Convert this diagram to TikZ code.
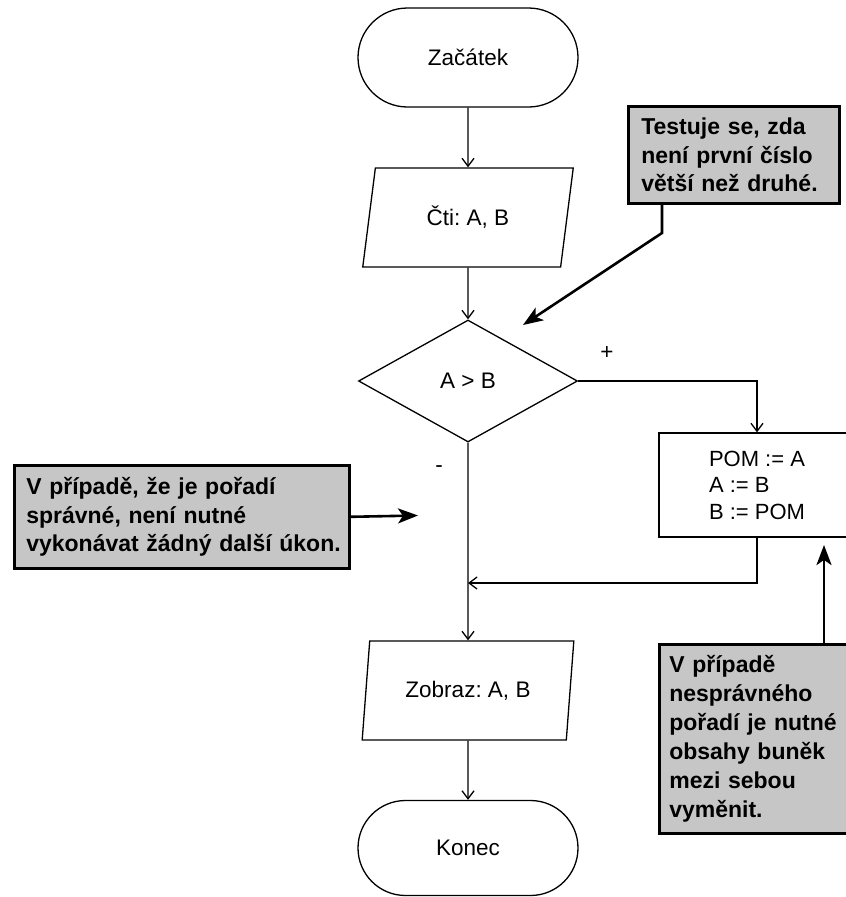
\documentclass[tikz,border=0pt]{standalone}
\usepackage{fontspec}
\setmainfont{Liberation Sans}
\usetikzlibrary{shapes.geometric,shapes.misc,arrows.meta,calc}
\definecolor{notefill}{RGB}{198,198,198}
\newcommand\flowfont{\fontsize{22.5}{26}\selectfont}
\newcommand\notefont{\fontsize{23}{28.5}\selectfont\bfseries}
\frenchspacing
\begin{document}
\begin{tikzpicture}[x=1pt,y=-1pt,
  flow/.style={line width=1.3pt},
  flowarrow/.style={flow,-{Straight Barb[length=8pt,width=12pt]}},
  term/.style={draw,flow,rounded rectangle,minimum width=220pt,
    minimum height=99pt,inner sep=0pt,font=\flowfont},
  io/.style={draw,flow,trapezium,trapezium left angle=76,
    trapezium right angle=104,trapezium stretches=true,
    minimum width=212pt,minimum height=99pt,inner sep=0pt,font=\flowfont},
  decision/.style={draw,flow,diamond,minimum width=219pt,
    minimum height=122pt,inner sep=0pt,font=\flowfont},
  process/.style={draw,flow,rectangle,minimum width=196pt,
    minimum height=104pt,inner sep=0pt,align=left,
    font=\fontsize{22}{26.5}\selectfont},
  note/.style={draw,line width=2.6pt,fill=notefill,font=\notefont,
    align=left,anchor=north west,inner ysep=0pt},
  notearrow/.style={line width=2.6pt,-{Stealth[length=20pt,width=15pt,inset=5pt]}},
  branchlabel/.style={font=\flowfont,inner sep=0pt}
]
  \fill[white] (0,0) rectangle (846,897);
  \useasboundingbox (0,0) rectangle (846,897);

  % main flow
  \node[term] (start) at (468,57.5) {Začátek};
  \node[io] (read) at (468,217.5) {Čti: A, B};
  \node[decision] (test) at (468,381) {A > B};
  \node[process] (swap) at (757,485) {POM := A\\A := B\\B := POM};
  \node[io] (show) at (468,690.5) {Zobraz: A, B};
  \node[term,minimum height=95pt] (stop) at (468,848) {Konec};

  \coordinate (join) at (468,583);

  \draw[flowarrow] (start) -- (read);
  \draw[flowarrow] (read) -- (test);
  \draw[flowarrow] (test.east) -| (swap.north);
  \draw[flowarrow] (swap.south) |- (join);
  \draw[flowarrow] (test.south) -- (show.north);
  \draw[flowarrow] (show) -- (stop);

  \node[branchlabel] (plus) at (607,353) {+};
  \node[branchlabel] (minus) at (439,469) {-};

  % explanatory notes
  \node[note,inner xsep=13pt,text width=185pt,minimum width=211pt,
    minimum height=97pt] (note1) at (627,105)
    {\mbox{Testuje se, zda}\\\mbox{není první číslo}\\\mbox{větší než druhé.}};
  \node[note,inner xsep=12pt,text width=311pt,minimum width=335pt,
    minimum height=103pt] (note2) at (13,464)
    {\mbox{V případě, že je pořadí}\\\mbox{správné, není nutné}\\\mbox{vykonávat žádný další úkon.}};
  \node[note,inner xsep=10pt,text width=180pt,minimum width=200pt,
    minimum height=189pt,font=\fontsize{23}{29}\selectfont\bfseries] (note3) at (658,643)
    {\mbox{V případě}\\\mbox{nesprávného}\\\mbox{pořadí je nutné}\\\mbox{obsahy buněk}\\\mbox{mezi sebou}\\\mbox{vyměnit.}};

  \coordinate (bend1) at (662,233);
  \coordinate (tip1) at (523,325);
  \coordinate (tip2) at (418,515.5);
  \coordinate (tip3) at (824,545);

  \draw[notearrow] (note1.south -| bend1) -- (bend1) -- (tip1);
  \draw[notearrow] (note2.east) -- (tip2);
  \draw[notearrow] (note3.north -| tip3) -- (tip3);
\end{tikzpicture}
\end{document}
